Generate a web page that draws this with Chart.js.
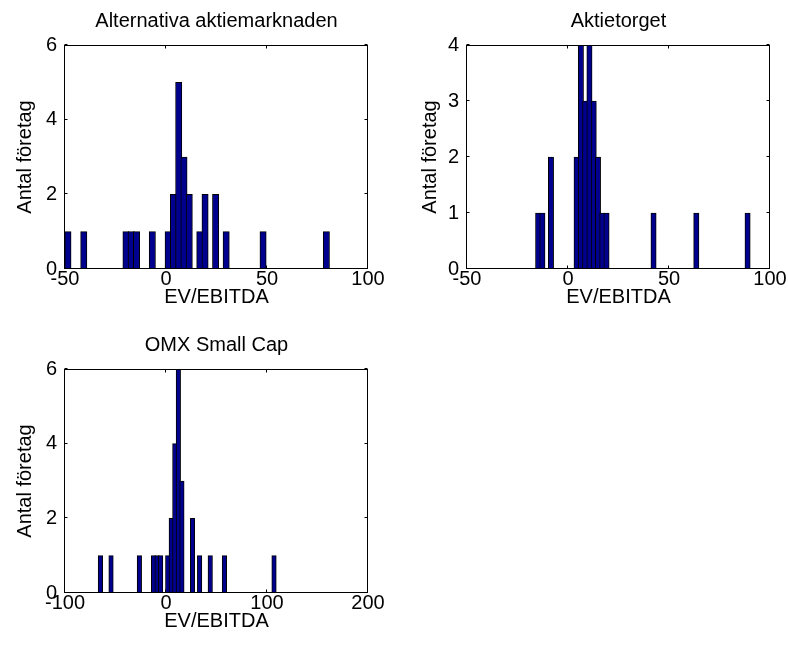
<!DOCTYPE html>
<html>
<head>
<meta charset="utf-8">
<script src="https://cdn.jsdelivr.net/npm/chart.js@4"></script>
<style>
  html, body { margin: 0; padding: 0; background: #fff; }
  #wrap { position: relative; width: 788px; height: 652px; background: #fff; overflow: hidden; }
  canvas { position: absolute; }
</style>
</head>
<body>
<div id="wrap">
  <canvas id="c1" width="390" height="312" style="left:0px;top:0px;"></canvas>
  <canvas id="c2" width="388" height="312" style="left:400px;top:0px;"></canvas>
  <canvas id="c3" width="390" height="312" style="left:0px;top:324px;"></canvas>
</div>
<script>
// ---- Data (histogram bin centres and counts) ----
const titles = ["Alternativa aktiemarknaden", "Aktietorget", "OMX Small Cap"];
const xLabel = "EV/EBITDA";
const yLabel = "Antal företag";

const binCenters1 = [-48.54, -40.71, -19.82, -17.21, -14.60, -6.77, 1.06, 3.68, 6.29, 8.90, 11.51, 16.73, 19.34, 24.56, 29.79, 48.06, 79.39];
const counts1     = [1, 1, 1, 1, 1, 1, 1, 2, 5, 3, 2, 1, 2, 2, 1, 1, 1];

const binCenters2 = [-14.78, -12.67, -8.43, 4.26, 6.38, 8.49, 10.61, 12.73, 14.84, 16.96, 19.07, 42.35, 63.51, 88.90];
const counts2     = [1, 1, 2, 2, 4, 3, 4, 3, 2, 1, 1, 1, 1, 1];

const binCenters3 = [-64.95, -54.42, -26.36, -12.33, -8.82, -5.31, 1.71, 5.21, 8.72, 12.23, 15.74, 26.26, 33.28, 43.80, 57.83, 106.95];
const counts3     = [1, 1, 1, 1, 1, 1, 1, 2, 4, 6, 3, 2, 1, 1, 1, 1];

const xTicks1 = [-50, 0, 50, 100];
const xTicks2 = [-50, 0, 50, 100];
const xTicks3 = [-100, 0, 100, 200];
const yTicks1 = [0, 2, 4, 6];
const yTicks2 = [0, 1, 2, 3, 4];
const yTicks3 = [0, 2, 4, 6];

// ---- Styling ----
const FONT = '"Liberation Sans", Arial, Helvetica, sans-serif';
Chart.defaults.font.family = FONT;
Chart.defaults.color = '#000';
const BAR_FILL = 'rgb(0,0,143)';

const boxPlugin = {
  id: 'matlabBox',
  afterDatasetsDraw(chart) {
    const {ctx, chartArea: a, scales} = chart;
    const L = Math.round(a.left) - 0.5, R = Math.round(a.right) - 0.5;
    const T = Math.round(a.top) + 0.5, B = Math.round(a.bottom) - 0.5;
    ctx.save();
    ctx.strokeStyle = '#000';
    ctx.lineWidth = 1;
    ctx.strokeRect(L, T, R - L, B - T);
    const tl = 3;
    ctx.beginPath();
    scales.x.ticks.forEach(t => {
      const px = Math.round(scales.x.getPixelForValue(t.value)) - 0.5;
      ctx.moveTo(px, B); ctx.lineTo(px, B - tl);
      ctx.moveTo(px, T); ctx.lineTo(px, T + tl);
    });
    scales.y.ticks.forEach(t => {
      const py = Math.round(scales.y.getPixelForValue(t.value)) - 0.5;
      ctx.moveTo(L, py); ctx.lineTo(L + tl, py);
      ctx.moveTo(R, py); ctx.lineTo(R - tl, py);
    });
    ctx.stroke();
    // axes title, centred over the plot box (MATLAB style)
    const t = chart.options.plugins.matlabBox.title;
    ctx.fillStyle = '#000';
    ctx.font = '20px ' + FONT;
    ctx.textAlign = 'center';
    ctx.textBaseline = 'alphabetic';
    ctx.fillText(t, (a.left + a.right) / 2, 27);
    ctx.restore();
  }
};

function makeChart(id, title, centers, counts, xTicks, yTicks, yAxisWidth, yTitlePad, rightPad, barPx) {
  const data = centers.map((c, i) => ({x: c, y: counts[i]}));
  return new Chart(document.getElementById(id), {
    type: 'bar',
    data: {
      datasets: [{
        data: data,
        backgroundColor: BAR_FILL,
        borderColor: '#000',
        borderWidth: 1,
        barThickness: barPx
      }]
    },
    options: {
      responsive: false,
      animation: false,
      devicePixelRatio: 1,
      layout: { padding: { left: 0, right: rightPad, top: 45, bottom: 0 } },
      plugins: {
        legend: { display: false },
        tooltip: { enabled: false },
        title: { display: false },
        matlabBox: { title: title }
      },
      scales: {
        x: {
          type: 'linear',
          min: xTicks[0],
          max: xTicks[xTicks.length - 1],
          offset: false,
          grid: { display: false, offset: false, drawTicks: false },
          border: { display: false },
          afterBuildTicks: s => { s.ticks = xTicks.map(v => ({value: v})); },
          afterFit: s => { s.height = 43; },
          ticks: {
            autoSkip: false, maxRotation: 0, padding: 0,
            color: '#000',
            font: { size: 20, family: FONT, lineHeight: 1.0 }
          },
          title: {
            display: true, text: xLabel, color: '#000',
            font: { size: 20, family: FONT },
            padding: { top: 0, bottom: 3 }
          }
        },
        y: {
          type: 'linear',
          min: yTicks[0],
          max: yTicks[yTicks.length - 1],
          grid: { display: false, drawTicks: false },
          border: { display: false },
          afterBuildTicks: s => { s.ticks = yTicks.map(v => ({value: v})); },
          afterFit: s => { s.width = yAxisWidth; },
          ticks: {
            padding: 8,
            color: '#000',
            font: { size: 20, family: FONT }
          },
          title: {
            display: true, text: yLabel, color: '#000',
            font: { size: 20, family: FONT },
            padding: { top: yTitlePad, bottom: 0 }
          }
        }
      }
    },
    plugins: [boxPlugin]
  });
}

makeChart('c1', titles[0], binCenters1, counts1, xTicks1, yTicks1, 65, 13, 22, 6.3);
makeChart('c2', titles[1], binCenters2, counts2, xTicks2, yTicks2, 67, 18, 18, 5.3);
makeChart('c3', titles[2], binCenters3, counts3, xTicks3, yTicks3, 65, 13, 22, 4.5);
</script>
</body>
</html>
